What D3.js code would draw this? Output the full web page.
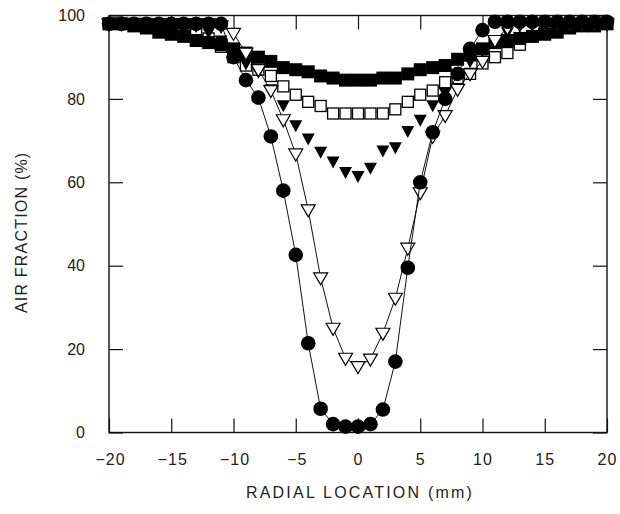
<!DOCTYPE html>
<html>
<head>
<meta charset="utf-8">
<script src="https://cdn.jsdelivr.net/npm/d3@7"></script>
<style>
  body { margin: 0; background: #fff; }
  svg { display: block; }
  text { font-family: "Liberation Sans", Arial, sans-serif; fill: #222; }
</style>
</head>
<body>
<svg id="chart"></svg>
<script>
// radial positions (mm)
const radialMm = [-20, -19, -18, -17, -16, -15, -14, -13, -12, -11, -10, -9, -8, -7, -6, -5, -4, -3, -2, -1,
  0, 1, 2, 3, 4, 5, 6, 7, 8, 9, 10, 11, 12, 13, 14, 15, 16, 17, 18, 19, 20];

// air fraction (%) per series
const filledSquares = [98, 98, 97.5, 97, 96, 95.5, 95, 94, 93.5, 93, 92, 91, 90, 89, 87.5, 87, 86.5, 85.5, 85, 84.5,
  84.5, 84.5, 85, 85, 86, 87, 87.5, 88, 89.5, 90.5, 92, 93.5, 94, 94.5, 95, 95.5, 96, 97, 97.5, 97.5, 98];
const openSquares = [98, 98, 98, 98, 97.5, 97, 96.5, 95.5, 94.5, 92.5, 90, 88, 87, 85.5, 83, 81, 79.3, 78.3, 76.5, 76.5,
  76.5, 76.5, 76.5, 77.5, 79.3, 81, 82, 84, 85, 86, 88.5, 90, 91, 93, 95, 96.5, 97, 97.5, 98, 98, 98];
const filledTriangles = [98, 98, 98, 98, 98, 98, 98, 97.5, 96, 94, 91.7, 88.5, 86.5, 82.3, 78.5, 73.7, 70.5, 67.3, 65, 62.5,
  61.5, 63.5, 67.6, 68.4, 72.3, 75, 78.5, 81.5, 86, 89, 91.5, 94, 96, 97.5, 98, 98, 98, 98, 98, 98, 98];
const openTriangles = [98, 98, 98, 98, 98, 98, 98, 98, 98, 97.5, 95.7, 91, 87, 82, 75, 66.8, 53.4, 37.1, 25, 17.8,
  15.8, 17.6, 23.8, 32.2, 44.2, 57.5, 71, 76, 82.3, 86, 89, 94, 97, 98, 98, 98, 98, 98, 98, 98, 98];
const filledCircles = [98, 98, 98, 98, 98, 98, 98, 98, 98, 98, 90, 84.5, 80.3, 71, 58, 42.6, 21.4, 5.7, 2, 1.4,
  1.4, 2, 5.5, 17, 39.5, 60, 72, 80, 86, 92, 96.5, 98.5, 98.5, 98.5, 98.5, 98.5, 98.5, 98.5, 98.5, 98.5, 98.5];

const xTicks = [-20, -15, -10, -5, 0, 5, 10, 15, 20];
const yTicks = [0, 20, 40, 60, 80, 100];

const width = 620;
const height = 514;
const marginTop = 15.5;
const marginRight = 13;
const marginBottom = 81.5;
const marginLeft = 109;

const x = d3.scaleLinear().domain([-20, 20]).range([marginLeft, width - marginRight]);
const y = d3.scaleLinear().domain([0, 100]).range([height - marginBottom, marginTop]);

const svg = d3.select("#chart").attr("width", width).attr("height", height);

// frame
svg.append("rect")
  .attr("x", x(-20)).attr("y", y(100))
  .attr("width", x(20) - x(-20)).attr("height", y(0) - y(100))
  .attr("fill", "none").attr("stroke", "#111").attr("stroke-width", 1.4);

const tickLen = 14;

// axes, ticks inward
svg.append("g")
  .attr("transform", `translate(0,${y(0)})`)
  .call(d3.axisBottom(x).tickValues(xTicks).tickSize(-tickLen).tickPadding(tickLen + 7)
    .tickFormat(d => d < 0 ? "\u2212" + Math.abs(d) : d))
  .call(g => g.select(".domain").remove())
  .call(g => g.selectAll(".tick line").attr("stroke", "#111").attr("stroke-width", 1.2))
  .call(g => g.selectAll("text").attr("font-size", 16).attr("fill", "#222")
    .attr("letter-spacing", 1).attr("dx", d => d < 0 ? 1 : 0));

svg.append("g")
  .attr("transform", `translate(0,${y(100)})`)
  .call(d3.axisTop(x).tickValues(xTicks).tickSize(-tickLen).tickFormat(""))
  .call(g => g.select(".domain").remove())
  .call(g => g.selectAll(".tick line").attr("stroke", "#111").attr("stroke-width", 1.2));

svg.append("g")
  .attr("transform", `translate(${x(-20)},0)`)
  .call(d3.axisLeft(y).tickValues(yTicks).tickSize(-tickLen).tickPadding(tickLen + 10))
  .call(g => g.select(".domain").remove())
  .call(g => g.selectAll(".tick line").attr("stroke", "#111").attr("stroke-width", 1.2))
  .call(g => g.selectAll("text").attr("font-size", 16).attr("fill", "#222"));

svg.append("g")
  .attr("transform", `translate(${x(20)},0)`)
  .call(d3.axisRight(y).tickValues(yTicks).tickSize(-tickLen).tickFormat(""))
  .call(g => g.select(".domain").remove())
  .call(g => g.selectAll(".tick line").attr("stroke", "#111").attr("stroke-width", 1.2));

// axis titles
svg.append("text")
  .attr("x", x(0) + 2).attr("y", 498)
  .attr("text-anchor", "middle")
  .attr("font-size", 16).attr("letter-spacing", 2.2)
  .text("RADIAL LOCATION (mm)");

svg.append("text")
  .attr("transform", `translate(27,${y(48)}) rotate(-90)`)
  .attr("text-anchor", "middle")
  .attr("font-size", 16).attr("letter-spacing", 1.2)
  .text("AIR FRACTION (%)");

const pts = vals => radialMm.map((m, i) => [m, vals[i]]);
const line = d3.line().x(d => x(d[0])).y(d => y(d[1]));
const downTri = (w, h) => `M${-w / 2},${-h / 2 + 1}L${w / 2},${-h / 2 + 1}L0,${h / 2 + 1}Z`;

// open squares (under the filled ones)
svg.append("g").selectAll("rect")
  .data(pts(openSquares)).join("rect")
  .attr("x", d => x(d[0]) - 5.5).attr("y", d => y(d[1]) - 5.5)
  .attr("width", 11).attr("height", 11)
  .attr("fill", "#fff").attr("stroke", "#000").attr("stroke-width", 1.3);

// filled squares
svg.append("g").selectAll("rect")
  .data(pts(filledSquares)).join("rect")
  .attr("x", d => x(d[0]) - 6.5).attr("y", d => y(d[1]) - 6.5)
  .attr("width", 13).attr("height", 13)
  .attr("fill", "#000");

// filled triangles
svg.append("g").selectAll("path")
  .data(pts(filledTriangles)).join("path")
  .attr("transform", d => `translate(${x(d[0])},${y(d[1])})`)
  .attr("d", downTri(13, 12))
  .attr("fill", "#000");

// open triangles with line
svg.append("path")
  .datum(pts(openTriangles))
  .attr("fill", "none").attr("stroke", "#111").attr("stroke-width", 1)
  .attr("d", line);
svg.append("g").selectAll("path")
  .data(pts(openTriangles)).join("path")
  .attr("transform", d => `translate(${x(d[0])},${y(d[1])})`)
  .attr("d", downTri(14, 12))
  .attr("fill", "#fff").attr("stroke", "#000").attr("stroke-width", 1.2);

// filled circles with line
svg.append("path")
  .datum(pts(filledCircles))
  .attr("fill", "none").attr("stroke", "#111").attr("stroke-width", 1)
  .attr("d", line);
svg.append("g").selectAll("circle")
  .data(pts(filledCircles)).join("circle")
  .attr("cx", d => x(d[0])).attr("cy", d => y(d[1]))
  .attr("r", 7.3)
  .attr("fill", "#000");
</script>
</body>
</html>
